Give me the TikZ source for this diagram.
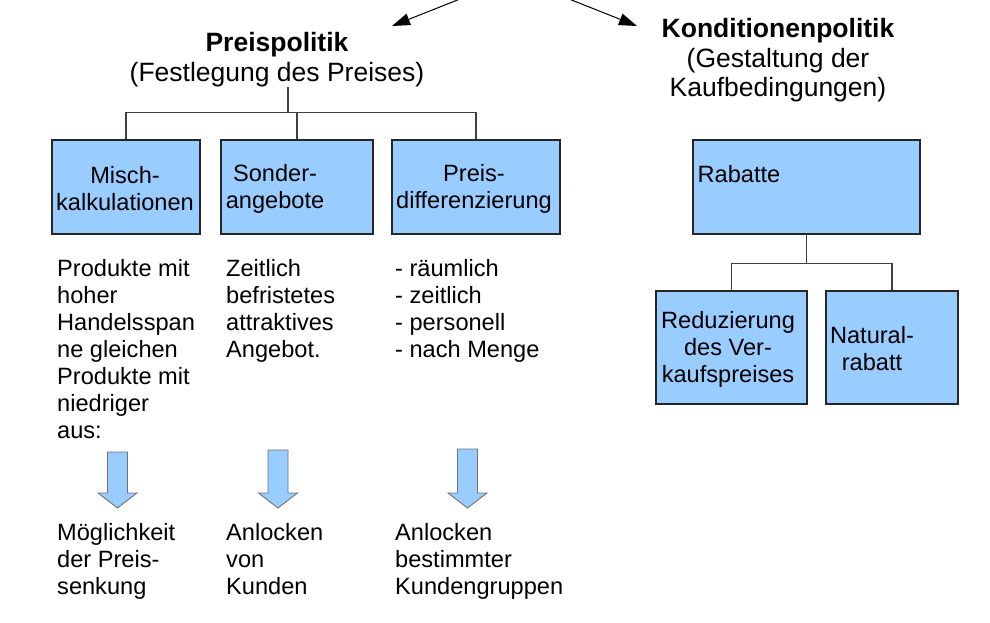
\documentclass[tikz,border=0pt]{standalone}
\usepackage{fontspec}
\setmainfont{Liberation Sans}
\usetikzlibrary{arrows.meta}
\definecolor{hellblau}{HTML}{99CCFF}
\tikzset{
	kasten/.style={draw=black!85, fill=hellblau, line width=1.1pt, minimum height=94pt, inner sep=0pt},
	linie/.style={draw=black!75, line width=1.3pt},
	schrift/.style={inner sep=0pt, align=center, font=\fontsize{23.6}{27}\selectfont},
	textblock/.style={anchor=north west, inner sep=0pt, align=left, font=\fontsize{23.6}{27}\selectfont},
	titel/.style={inner sep=0pt, align=center, font=\fontsize{26.5}{29.5}\selectfont},
	blockpfeil/.style={draw=black!55, fill=hellblau, line width=0.9pt}
}
\begin{document}
\begin{tikzpicture}[x=1pt,y=-1pt]
	\useasboundingbox (0,0) rectangle (990,623);

	\node[titel] (preis) at (277,59.5) {\textbf{Preispolitik}\\(Festlegung des Preises)};
	\node[titel] (kond) at (778,60.5) {\textbf{Konditionenpolitik}\\(Gestaltung der\\Kaufbedingungen)};

	\coordinate (obenL) at (460,-1);
	\coordinate (spitzeL) at (392,26);
	\coordinate (obenR) at (569,-1);
	\coordinate (spitzeR) at (637,26);
	\draw[-{Triangle[length=18pt,width=12pt]}, line width=1pt] (obenL) -- (spitzeL);
	\draw[-{Triangle[length=18pt,width=12pt]}, line width=1pt] (obenR) -- (spitzeR);

	\node[kasten, minimum width=148pt] (misch) at (126,187) {};
	\node[kasten, minimum width=152pt] (sonder) at (297,187) {};
	\node[kasten, minimum width=168pt] (preisd) at (476,187) {};
	\node[kasten, minimum width=227pt] (rabatte) at (806.5,187) {};
	\node[kasten, minimum width=151pt, minimum height=113pt] (reduz) at (731.5,347.5) {};
	\node[kasten, minimum width=132pt, minimum height=113pt] (natural) at (892,347.5) {};

	\node[schrift] (misch-t) at ([xshift=-1pt,yshift=-2pt]misch.center) {Misch-\\kalkulationen};
	\node[schrift] (sonder-t) at ([xshift=-22pt,yshift=-2pt]sonder.center) {Sonder-\\angebote};
	\node[schrift] (preisd-t) at ([xshift=-2pt,yshift=-2pt]preisd.center) {Preis-\\differenzierung};
	\node[schrift, anchor=west] (rabatte-t) at ([xshift=5pt,yshift=-35pt]rabatte.north west) {Rabatte};
	\node[schrift] (reduz-t) at ([xshift=-3.5pt,yshift=-2pt]reduz.center) {Reduzierung\\des Ver-\\kaufspreises};
	\node[schrift] (natural-t) at ([xshift=-20pt,yshift=-1.5pt]natural.center) {Natural-\\rabatt};

	\coordinate (preisfuss) at (288,87);
	\draw[linie] (misch.north) -- ++(0,-27) coordinate (busL) -| (preisd.north);
	\draw[linie] (sonder.north) -- (sonder.north |- busL);
	\draw[linie] (preisfuss) -- (preisfuss |- busL);

	\draw[linie] (rabatte.south) -- ++(0,29) coordinate (busR);
	\draw[linie] (reduz.north) |- (busR) -| (natural.north);

	\node[textblock] (mischtext) at (57,259) {Produkte mit\\hoher\\Handelsspan\\ne gleichen\\Produkte mit\\niedriger\\aus:};
	\node[textblock] (sondertext) at (226,259) {Zeitlich\\befristetes\\attraktives\\Angebot.};
	\node[textblock] (preisdtext) at (395,259) {- räumlich\\- zeitlich\\- personell\\- nach Menge};

	\foreach \x/\y in {117.5/452, 278/450, 467.5/449}
		\draw[blockpfeil] (\x-10,\y) -- (\x+10,\y) -- (\x+10,493) -- (\x+19.5,493) -- (\x,508) -- (\x-19.5,493) -- (\x-10,493) -- cycle;

	\node[textblock] (folge1) at (57,523) {Möglichkeit\\der Preis-\\senkung};
	\node[textblock] (folge2) at (226,523) {Anlocken\\von\\Kunden};
	\node[textblock] (folge3) at (395,523) {Anlocken\\bestimmter\\Kundengruppen};
\end{tikzpicture}
\end{document}
